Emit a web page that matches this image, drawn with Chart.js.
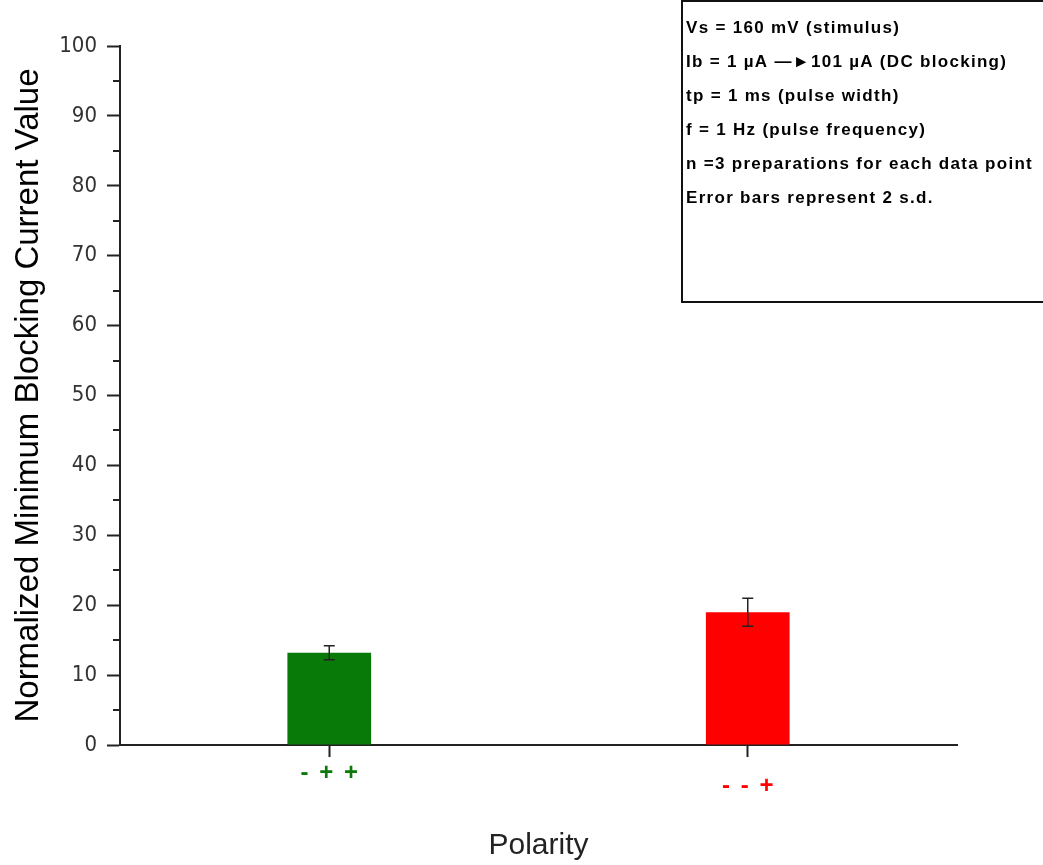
<!DOCTYPE html>
<html lang="en">
<head>
    <meta charset="utf-8"/>
    <script src="https://cdn.jsdelivr.net/npm/chart.js@4.4.1/dist/chart.umd.min.js"></script>
    <style>
        html, body { margin: 0; padding: 0; background: #fff; }
        #wrap { width: 1043px; height: 865px; position: relative; }
    </style>
</head>
<body>
    <div id="wrap"><canvas id="chart"></canvas></div>
    <script>
        // polarity groups and their normalized blocking current
        const polarities = ['- + +', '- - +'];
        const blockingValues = [13.2, 19.0];
        const errorValues = [1.0, 2.0];          // +/- 2 s.d.
        const barColors = ['#077a07', '#ff0000'];
        const labelColors = ['#0b7a0b', '#ff0000'];
        const yTicks = [0, 10, 20, 30, 40, 50, 60, 70, 80, 90, 100];
        const minorTicks = [5, 15, 25, 35, 45, 55, 65, 75, 85, 95];
        const notes = [
            'Vs = 160 mV (stimulus)',
            'Ib = 1 \u00b5A \u2014\u25ba101 \u00b5A (DC blocking)',
            'tp = 1 ms (pulse width)',
            'f = 1 Hz (pulse frequency)',
            'n =3 preparations for each data point',
            'Error bars represent 2 s.d.'
        ];

        const AXIS = '#222';
        const narrow = '"Liberation Sans Narrow", "DejaVu Sans Condensed", Arial, sans-serif';

        // error bars, minor y ticks, polarity labels, axis title and the notes box
        const extras = {
            id: 'extras',
            afterDatasetsDraw(chart) {
                const ctx = chart.ctx;
                const x = chart.scales.x, y = chart.scales.y;
                ctx.save();
                ctx.strokeStyle = AXIS;
                ctx.lineWidth = 1.5;
                blockingValues.forEach((v, i) => {
                    const px = x.getPixelForValue(i);
                    const top = y.getPixelForValue(v + errorValues[i]);
                    const bot = y.getPixelForValue(v - errorValues[i]);
                    ctx.beginPath();
                    ctx.moveTo(px, top); ctx.lineTo(px, bot);
                    ctx.moveTo(px - 5.5, top); ctx.lineTo(px + 5.5, top);
                    ctx.moveTo(px - 5.5, bot); ctx.lineTo(px + 5.5, bot);
                    ctx.stroke();
                });
                ctx.restore();
            },
            afterDraw(chart) {
                const ctx = chart.ctx;
                const x = chart.scales.x, y = chart.scales.y;
                ctx.save();
                ctx.strokeStyle = AXIS;
                ctx.lineWidth = 2;
                minorTicks.forEach(t => {
                    const py = Math.round(y.getPixelForValue(t));
                    ctx.beginPath();
                    ctx.moveTo(x.left - 7, py); ctx.lineTo(x.left, py);
                    ctx.stroke();
                });

                ctx.font = 'bold 24px "Liberation Sans", Arial, sans-serif';
                ctx.textAlign = 'center';
                ctx.textBaseline = 'middle';
                ctx.letterSpacing = '2px';
                polarities.forEach((p, i) => {
                    ctx.fillStyle = labelColors[i];
                    ctx.fillText(p, x.getPixelForValue(i) + 1, y.bottom + 28 + i * 13);
                });
                ctx.letterSpacing = '0px';

                ctx.fillStyle = '#222';
                ctx.textBaseline = 'alphabetic';
                ctx.font = '30px "Liberation Sans", Arial, sans-serif';
                ctx.fillText('Polarity', (x.left + x.right) / 2, 854);

                ctx.save();
                ctx.translate(38, (y.top + y.bottom) / 2);
                ctx.rotate(-Math.PI / 2);
                ctx.fillStyle = '#000';
                ctx.font = '33px "Liberation Sans", Arial, sans-serif';
                ctx.fillText('Normalized Minimum Blocking Current Value', 0, 0);
                ctx.restore();

                // notes box
                ctx.lineWidth = 2;
                ctx.strokeStyle = '#111';
                ctx.strokeRect(682, 1, 400, 301);
                ctx.fillStyle = '#000';
                ctx.textAlign = 'left';
                ctx.textBaseline = 'middle';
                ctx.letterSpacing = '1.3px';
                ctx.font = 'bold 17px "Liberation Sans", Arial, sans-serif';
                notes.forEach((n, i) => ctx.fillText(n, 686, 28 + i * 34));
                ctx.restore();
            }
        };

        new Chart(document.getElementById('chart'), {
            type: 'bar',
            data: {
                labels: polarities,
                datasets: [{
                    data: blockingValues,
                    backgroundColor: barColors,
                    barPercentage: 0.2,
                    categoryPercentage: 1
                }]
            },
            options: {
                responsive: true,
                maintainAspectRatio: false,
                animation: false,
                layout: { padding: { top: 46, right: 86, left: 0, bottom: 0 } },
                plugins: { legend: { display: false }, tooltip: { enabled: false } },
                scales: {
                    x: {
                        offset: true,
                        grid: {
                            offset: false, drawOnChartArea: false,
                            tickLength: 12, tickColor: AXIS, tickWidth: 2
                        },
                        border: { color: AXIS, width: 2 },
                        ticks: { display: false },
                        afterFit(s) { s.height = 120; }
                    },
                    y: {
                        min: 0, max: 100,
                        afterBuildTicks(s) { s.ticks = yTicks.map(v => ({ value: v })); },
                        grid: {
                            drawOnChartArea: false,
                            tickLength: 13, tickColor: AXIS, tickWidth: 2
                        },
                        border: { color: AXIS, width: 2 },
                        ticks: {
                            color: '#333', padding: 10,
                            font: { family: narrow, size: 22 }
                        },
                        afterFit(s) { s.width = 120; }
                    }
                }
            },
            plugins: [extras]
        });
    </script>
</body>
</html>
